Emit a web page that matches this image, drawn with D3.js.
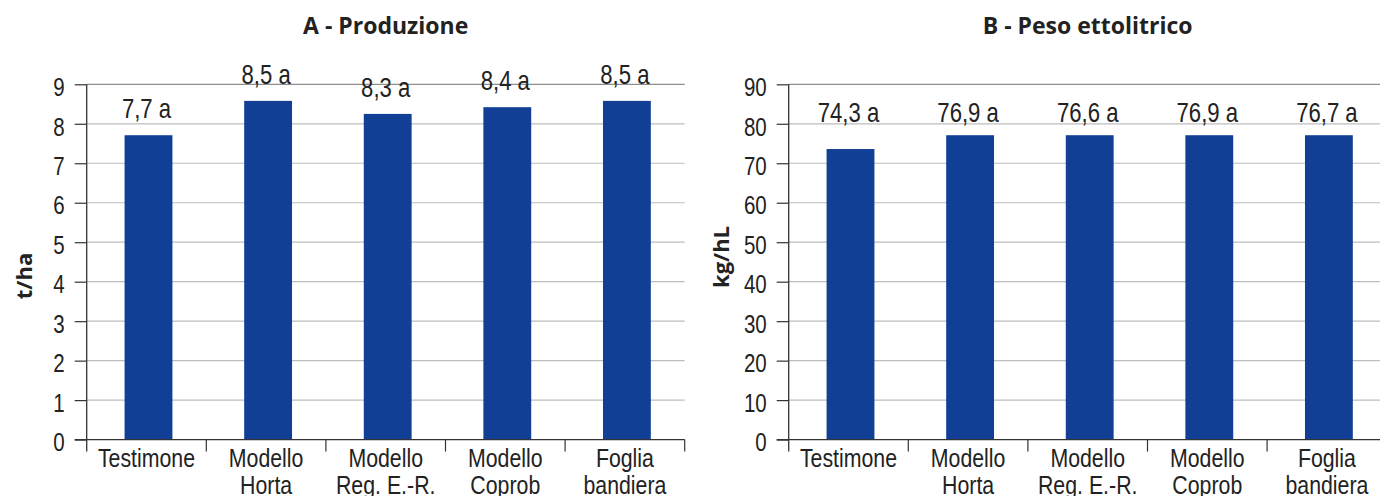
<!DOCTYPE html>
<html>
<head>
<meta charset="utf-8">
<script src="https://cdn.jsdelivr.net/npm/d3@7"></script>
<style>
  body { margin: 0; background: #fff; }
  svg { display: block; }
  .narrow { font-family: "Liberation Sans", Arial, sans-serif; fill: #222; }
  .bold { font-family: "Open Sans", sans-serif; font-weight: 700; fill: #222; }
</style>
</head>
<body>
<div id="viz"></div>
<script>
// categories (two lines where the label wraps)
const categories = [
  ["Testimone"],
  ["Modello", "Horta"],
  ["Modello", "Reg. E.-R."],
  ["Modello", "Coprob"],
  ["Foglia", "bandiera"]
];

// A - Produzione (t/ha)
const prodValues = [7.71, 8.58, 8.25, 8.42, 8.58];
const prodLabels = ["7,7 a", "8,5 a", "8,3 a", "8,4 a", "8,5 a"];
const prodTicks = [0, 1, 2, 3, 4, 5, 6, 7, 8, 9];

// B - Peso ettolitrico (kg/hL)
const pesoValues = [73.6, 77.1, 77.1, 77.1, 77.1];
const pesoLabels = ["74,3 a", "76,9 a", "76,6 a", "76,9 a", "76,7 a"];
const pesoTicks = [0, 10, 20, 30, 40, 50, 60, 70, 80, 90];

const width = 1380;
const height = 496;
const plotTop = 84.3, plotBottom = 439.6;
const barColor = "#103f95";
const squeeze = 0.82; // no condensed font installed, so squash Liberation Sans

const svg = d3.select("#viz").append("svg")
  .attr("width", width)
  .attr("height", height);

function drawPanel(opt) {
  let g = svg.append("g");

  let x = d3.scaleBand()
    .domain(d3.range(categories.length))
    .range([opt.left, opt.left + 598])
    .padding(0);

  let y = d3.scaleLinear()
    .domain([0, d3.max(opt.ticks)])
    .range([plotBottom, plotTop]);

  // gridlines
  g.append("g")
    .selectAll("line")
    .data(opt.ticks.filter(t => t > 0))
    .join("line")
    .attr("x1", opt.left)
    .attr("x2", opt.left + 598)
    .attr("y1", d => y(d))
    .attr("y2", d => y(d))
    .attr("stroke", (d, i, n) => i === n.length - 1 ? "#8e8e8e" : "#bdbdbd")
    .attr("stroke-width", 1.2);

  // bars
  g.append("g")
    .attr("fill", barColor)
    .selectAll("rect")
    .data(opt.values)
    .join("rect")
    .attr("x", (d, i) => x(i) + x.bandwidth() * 0.3 + 2)
    .attr("width", x.bandwidth() * 0.4)
    .attr("y", d => y(d))
    .attr("height", d => y(0) - y(d));

  // value labels
  g.append("g")
    .selectAll("text")
    .data(opt.labels)
    .join("text")
    .attr("class", "narrow")
    .attr("transform", (d, i) => {
      let ly = opt.labelRow != null ? y(opt.labelRow) - 2 : y(opt.values[i]) - 17;
      return `translate(${x(i) + x.bandwidth() / 2},${ly}) scale(${squeeze},1)`;
    })
    .attr("text-anchor", "middle")
    .attr("font-size", 27)
    .text(d => d);

  // y axis
  let yAxis = g.append("g")
    .attr("transform", `translate(${opt.left},0)`)
    .call(d3.axisLeft(y).tickValues(opt.ticks).tickSize(12).tickPadding(9).tickSizeOuter(0));
  yAxis.select(".domain").remove();
  yAxis.selectAll(".tick line").attr("stroke", "#333").attr("stroke-width", 1.2);
  yAxis.selectAll(".tick text")
    .attr("class", "narrow")
    .attr("font-size", 25)
    .attr("x", -22 / squeeze)
    .attr("dy", "0.45em")
    .attr("transform", `scale(${squeeze},1)`);

  // axis lines
  g.append("line")
    .attr("x1", opt.left).attr("x2", opt.left)
    .attr("y1", plotTop).attr("y2", plotBottom + 12)
    .attr("stroke", "#333").attr("stroke-width", 1.3);
  g.append("line")
    .attr("x1", opt.left - 12).attr("x2", opt.left + 598)
    .attr("y1", plotBottom).attr("y2", plotBottom)
    .attr("stroke", "#333").attr("stroke-width", 1.3);

  // category ticks at band edges
  g.append("g")
    .selectAll("line")
    .data(d3.range(1, categories.length + 1))
    .join("line")
    .attr("x1", i => opt.left + x.step() * i)
    .attr("x2", i => opt.left + x.step() * i)
    .attr("y1", plotBottom)
    .attr("y2", plotBottom + 12)
    .attr("stroke", "#333").attr("stroke-width", 1.2);

  // category labels
  let cat = g.append("g")
    .selectAll("text")
    .data(categories)
    .join("text")
    .attr("class", "narrow")
    .attr("font-size", 26)
    .attr("text-anchor", "middle")
    .attr("transform", (d, i) => `translate(${x(i) + x.bandwidth() / 2},467) scale(${squeeze},1)`);
  cat.selectAll("tspan")
    .data(d => d)
    .join("tspan")
    .attr("x", 0)
    .attr("dy", (d, i) => i === 0 ? 0 : 27)
    .text(d => d);

  // title
  g.append("text")
    .attr("class", "bold")
    .attr("x", opt.left + 299)
    .attr("y", 34)
    .attr("text-anchor", "middle")
    .attr("font-size", 23)
    .text(opt.title);

  // y title
  g.append("text")
    .attr("class", "bold")
    .attr("transform", `translate(${opt.titleX},${opt.titleY}) rotate(-90)`)
    .attr("text-anchor", "middle")
    .attr("font-size", 22)
    .text(opt.yTitle);
}

drawPanel({
  left: 86.7,
  values: prodValues,
  labels: prodLabels,
  ticks: prodTicks,
  title: "A - Produzione",
  yTitle: "t/ha",
  titleX: 32,
  titleY: 276
});

drawPanel({
  left: 788.7,
  values: pesoValues,
  labels: pesoLabels,
  ticks: pesoTicks,
  labelRow: 80,
  title: "B - Peso ettolitrico",
  yTitle: "kg/hL",
  titleX: 729,
  titleY: 257
});
</script>
</body>
</html>
